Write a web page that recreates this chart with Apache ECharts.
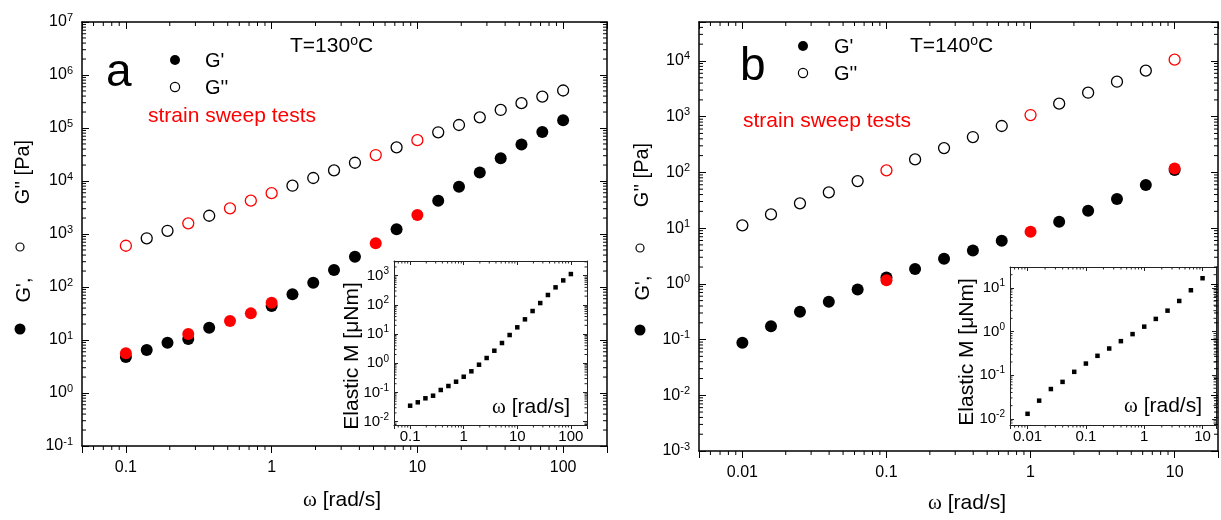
<!DOCTYPE html>
<html><head><meta charset="utf-8">
<script src="https://cdn.jsdelivr.net/npm/echarts@6/dist/echarts.min.js"></script>
<style>html,body{margin:0;padding:0;background:#fff}#c{width:1221px;height:520px}</style>
</head><body><div id="c"></div>
<script>
// ---------- data: panel a (T = 130 C) ----------
const aOmega = [0.1, 0.139, 0.193, 0.268, 0.373, 0.518, 0.72, 1, 1.39, 1.93, 2.68, 3.73, 5.18, 7.2, 10, 13.9, 19.3, 26.8, 37.3, 51.8, 72, 100];
const aGp        = [4.8, 6.5, 8.9, 10.4, 17, null, null, 44, 73, 120, 209, 373, null, 1230, null, 4250, 7800, 14500, 26900, 49000, 84000, 140000];
const aGpStrain  = [5.6, null, null, 13, null, 22.8, 31.8, 50.6, null, null, null, null, 668, null, 2280, null, null, null, null, null, null, null];
const aGpp       = [null, 830, 1150, null, 2210, null, null, null, 8150, 11400, 15900, 22100, null, 43200, null, 83000, 114000, 159000, 219000, 294000, 392000, 510000];
const aGppStrain = [600, null, null, 1590, null, 3050, 4250, 5890, null, null, null, null, 30900, null, 59000, null, null, null, null, null, null, null];
const aInsetM    = [0.0353, 0.0461, 0.0633, 0.0776, 0.122, 0.167, 0.234, 0.347, 0.532, 0.895, 1.52, 2.70, 4.96, 9.31, 17.1, 32.1, 61.8, 116, 219, 400, 692, 1143];

// ---------- data: panel b (T = 140 C) ----------
const bOmega = [0.01, 0.0158, 0.0251, 0.0398, 0.0631, 0.1, 0.158, 0.251, 0.398, 0.631, 1, 1.58, 2.51, 3.98, 6.31, 10];
const bGp        = [0.088, 0.174, 0.314, 0.475, 0.79, 1.30, 1.84, 2.81, 3.97, 5.92, null, 13, 20.5, 33.2, 59.3, 110];
const bGpStrain  = [null, null, null, null, null, 1.16, null, null, null, null, 8.6, null, null, null, null, 118];
const bGpp       = [11.2, 17.6, 27.8, 43.8, 69.8, null, 171, 273, 431, 680, null, 1710, 2690, 4240, 6700, null];
const bGppStrain = [null, null, null, null, null, 109, null, null, null, null, 1070, null, null, null, null, 10550];
const bInsetM    = [0.013, 0.026, 0.048, 0.070, 0.119, 0.184, 0.277, 0.407, 0.60, 0.87, 1.29, 1.94, 3.0, 5.0, 8.8, 16.6];

// ---------- tick labels ----------
const aXTickVals = [0.1, 1, 10, 100];
const aXTickLabels = ['0.1', '1', '10', '100'];
const bXTickVals = [0.01, 0.1, 1, 10];
const bXTickLabels = ['0.01', '0.1', '1', '10'];
const aYExps = [-1, 0, 1, 2, 3, 4, 5, 6, 7];
const bYExps = [-3, -2, -1, 0, 1, 2, 3, 4];
const aInsetYExps = [-2, -1, 0, 1, 2, 3];
const bInsetYExps = [-2, -1, 0, 1];

const FONT = 'Liberation Sans, Arial, sans-serif';
const RED = '#ff0000';

function pairs(xs, ys) {
  const out = [];
  xs.forEach((x, i) => { if (ys[i] != null) out.push([x, ys[i]]); });
  return out;
}
function xFormatter(vals, labels) {
  return function (v) {
    for (let i = 0; i < vals.length; i++) if (Math.abs(v / vals[i] - 1) < 1e-6) return labels[i];
    return '';
  };
}
function yFormatter(exps) {
  return function (v) {
    const l = Math.log10(v), n = Math.round(l);
    if (Math.abs(l - n) > 1e-6 || exps.indexOf(n) < 0) return '';
    return '{b|10}{s|' + n + '}';
  };
}
function minorVals(min, max) {
  const out = [];
  for (let n = Math.floor(Math.log10(min)) - 1; n <= Math.ceil(Math.log10(max)); n++) {
    for (let k = 2; k <= 9; k++) {
      const v = k * Math.pow(10, n);
      if (v > min * 1.0001 && v < max * 0.9999) out.push(v);
    }
  }
  return out;
}

const xAxes = [], yAxes = [], series = [];
function addGrid(gi, xr, yr, o) {
  const line = { show: true, onZero: false, lineStyle: { color: o.color, width: o.lw } };
  const tickStyle = { color: o.color, width: 1 };
  xAxes.push({ type: 'log', logBase: 10, gridIndex: gi, position: 'bottom', min: xr[0], max: xr[1],
    axisLine: line, splitLine: { show: false },
    axisTick: { show: true, inside: false, length: o.major, lineStyle: tickStyle },
    axisLabel: { show: true, fontSize: o.fs, fontFamily: FONT, color: '#000', margin: o.mx, formatter: xFormatter(o.xv, o.xl) } });
  xAxes.push({ type: 'log', logBase: 10, gridIndex: gi, position: 'top', min: xr[0], max: xr[1],
    axisLine: line, splitLine: { show: false },
    axisTick: { show: true, inside: true, length: o.major, lineStyle: tickStyle },
    axisLabel: { show: false } });
  yAxes.push({ type: 'log', logBase: 10, gridIndex: gi, position: 'left', min: yr[0], max: yr[1],
    axisLine: line, splitLine: { show: false },
    axisTick: { show: true, inside: true, length: o.major, lineStyle: tickStyle },
    axisLabel: { show: true, margin: o.my, color: '#000', formatter: yFormatter(o.ye),
      rich: { b: { fontSize: o.fs, fontFamily: FONT, color: '#000', lineHeight: o.fs + 4 },
              s: { fontSize: o.sfs, fontFamily: FONT, color: '#000', lineHeight: o.sfs, verticalAlign: 'top' } } } });
  yAxes.push({ type: 'log', logBase: 10, gridIndex: gi, position: 'right', min: yr[0], max: yr[1],
    axisLine: line, splitLine: { show: false },
    axisTick: { show: true, inside: true, length: o.major, lineStyle: tickStyle },
    axisLabel: { show: false } });
  const len = o.minor, col = o.color;
  series.push({ type: 'custom', xAxisIndex: 2 * gi, yAxisIndex: 2 * gi, silent: true, clip: false, z: 3,
    data: minorVals(xr[0], xr[1]).map(v => [v, yr[0]]),
    renderItem: function (p, api) {
      const cs = p.coordSys, x = api.coord([api.value(0), api.value(1)])[0], b = cs.y + cs.height;
      return { type: 'group', children: [
        { type: 'line', shape: { x1: x, y1: b, x2: x, y2: b + len }, style: { stroke: col, lineWidth: 1 } },
        { type: 'line', shape: { x1: x, y1: cs.y, x2: x, y2: cs.y + len }, style: { stroke: col, lineWidth: 1 } }] };
    } });
  series.push({ type: 'custom', xAxisIndex: 2 * gi, yAxisIndex: 2 * gi, silent: true, clip: false, z: 3,
    data: minorVals(yr[0], yr[1]).map(v => [xr[0], v]),
    renderItem: function (p, api) {
      const cs = p.coordSys, y = api.coord([api.value(0), api.value(1)])[1], r = cs.x + cs.width;
      return { type: 'group', children: [
        { type: 'line', shape: { x1: cs.x, y1: y, x2: cs.x + len, y2: y }, style: { stroke: col, lineWidth: 1 } },
        { type: 'line', shape: { x1: r, y1: y, x2: r - len, y2: y }, style: { stroke: col, lineWidth: 1 } }] };
    } });
}

const mainOpt = { color: '#000', lw: 1.5, major: 7, minor: 4, fs: 16, sfs: 11, mx: 14, my: 9 };
const insetOpt = { color: '#222', lw: 1, major: 4, minor: 2.5, fs: 15, sfs: 10, mx: 4, my: 5 };
addGrid(0, [0.05, 200], [0.1, 1e7], Object.assign({}, mainOpt, { xv: aXTickVals, xl: aXTickLabels, ye: aYExps }));
addGrid(1, [0.005, 20], [0.001, 5e4], Object.assign({}, mainOpt, { xv: bXTickVals, xl: bXTickLabels, ye: bYExps }));
addGrid(2, [0.05, 200], [0.0077, 3200], Object.assign({}, insetOpt, { xv: aXTickVals, xl: aXTickLabels, ye: aInsetYExps }));
addGrid(3, [0.005, 17], [0.0072, 30], Object.assign({}, insetOpt, { xv: bXTickVals, xl: bXTickLabels, ye: bInsetYExps }));

function filled(gi, data, color) {
  return { type: 'scatter', xAxisIndex: 2 * gi, yAxisIndex: 2 * gi, data: data, symbol: 'circle', symbolSize: 12,
    itemStyle: { color: color, opacity: 1 }, z: 4, silent: true };
}
function hollow(gi, data, color) {
  return { type: 'scatter', xAxisIndex: 2 * gi, yAxisIndex: 2 * gi, data: data, symbol: 'circle', symbolSize: 11,
    itemStyle: { color: 'rgba(0,0,0,0)', borderColor: color, borderWidth: 1.3, opacity: 1 }, z: 4, silent: true };
}
function squares(gi, data) {
  return { type: 'scatter', xAxisIndex: 2 * gi, yAxisIndex: 2 * gi, data: data, symbol: 'rect', symbolSize: 4.5,
    itemStyle: { color: '#000', opacity: 1 }, z: 4, silent: true };
}
series.push(filled(0, pairs(aOmega, aGp), '#000'));
series.push(hollow(0, pairs(aOmega, aGpp), '#000'));
series.push(filled(0, pairs(aOmega, aGpStrain), RED));
series.push(hollow(0, pairs(aOmega, aGppStrain), RED));
series.push(filled(1, pairs(bOmega, bGp), '#000'));
series.push(hollow(1, pairs(bOmega, bGpp), '#000'));
series.push(filled(1, pairs(bOmega, bGpStrain), RED));
series.push(hollow(1, pairs(bOmega, bGppStrain), RED));
series.push(squares(2, pairs(aOmega, aInsetM)));
series.push(squares(3, pairs(bOmega, bInsetM)));

function txt(text, x, y, size, extra) {
  return Object.assign({ type: 'text', x: x, y: y, z: 100, silent: true,
    style: Object.assign({ text: text, fontSize: size, fontFamily: FONT, fill: '#000', align: 'left', verticalAlign: 'middle' }, (extra && extra.style) || {}) },
    extra && extra.rotation != null ? { rotation: extra.rotation } : {});
}
function dot(cx, cy, r) { return { type: 'circle', z: 100, silent: true, shape: { cx: cx, cy: cy, r: r }, style: { fill: '#000' } }; }
function ring(cx, cy, r) { return { type: 'circle', z: 100, silent: true, shape: { cx: cx, cy: cy, r: r }, style: { fill: 'none', stroke: '#000', lineWidth: 1.2 } }; }
const supRich = { s: { fontSize: 14, fontFamily: FONT, fill: '#000', lineHeight: 14, verticalAlign: 'top' } };
const omegaRich = { w: { fontSize: 21, fontFamily: 'Liberation Serif, Times New Roman, serif', fill: '#000' } };
const R90 = Math.PI / 2;

const graphics = [
  txt('a', 106, 73, 46), txt('b', 740, 67, 46),
  dot(175, 60, 5), ring(175, 87, 4.6), txt("G'", 205, 61, 20), txt("G''", 205, 88, 20),
  dot(803, 46, 5), ring(803, 73, 4.6), txt("G'", 834, 47, 20), txt("G''", 834, 74, 20),
  txt('T=130{s|o}C', 290, 46, 21, { style: { rich: supRich, lineHeight: 23 } }),
  txt('T=140{s|o}C', 910, 46, 21, { style: { rich: supRich, lineHeight: 23 } }),
  txt('strain sweep tests', 148, 116, 21, { style: { fill: RED } }),
  txt('strain sweep tests', 743, 121, 21, { style: { fill: RED } }),
  dot(20, 329, 5.5), txt("G',", 24, 290, 20, { rotation: R90, style: { align: 'center' } }),
  ring(20, 247, 4), txt("G'' [Pa]", 23, 172, 20, { rotation: R90, style: { align: 'center' } }),
  dot(640, 330, 5.5), txt("G',", 643, 288, 20, { rotation: R90, style: { align: 'center' } }),
  ring(640, 248, 4), txt("G'' [Pa]", 642, 175, 20, { rotation: R90, style: { align: 'center' } }),
  txt('{w|ω} [rad/s]', 342, 500, 21, { style: { align: 'center', rich: omegaRich } }),
  txt('{w|ω} [rad/s]', 967, 503, 21, { style: { align: 'center', rich: omegaRich } }),
  txt('{w|ω} [rad/s]', 570, 407, 21, { style: { align: 'right', rich: omegaRich } }),
  txt('{w|ω} [rad/s]', 1202, 406, 21, { style: { align: 'right', rich: omegaRich } }),
  txt('Elastic M [μNm]', 352, 356, 21, { rotation: R90, style: { align: 'center' } }),
  txt('Elastic M [μNm]', 967, 352, 21, { rotation: R90, style: { align: 'center' } })
];

const chart = echarts.init(document.getElementById('c'), null, { renderer: 'canvas' });
chart.setOption({
  animation: false,
  backgroundColor: '#fff',
  grid: [
    { left: 82, top: 22, width: 525, height: 424 },
    { left: 699, top: 22, width: 531, height: 429 },
    { left: 394, top: 261, width: 193, height: 164, show: true, backgroundColor: '#fff', borderWidth: 0 },
    { left: 1010, top: 267, width: 206, height: 158, show: true, backgroundColor: '#fff', borderWidth: 0 }
  ],
  xAxis: xAxes,
  yAxis: yAxes,
  series: series,
  graphic: { elements: graphics }
});
</script>
</body></html>
